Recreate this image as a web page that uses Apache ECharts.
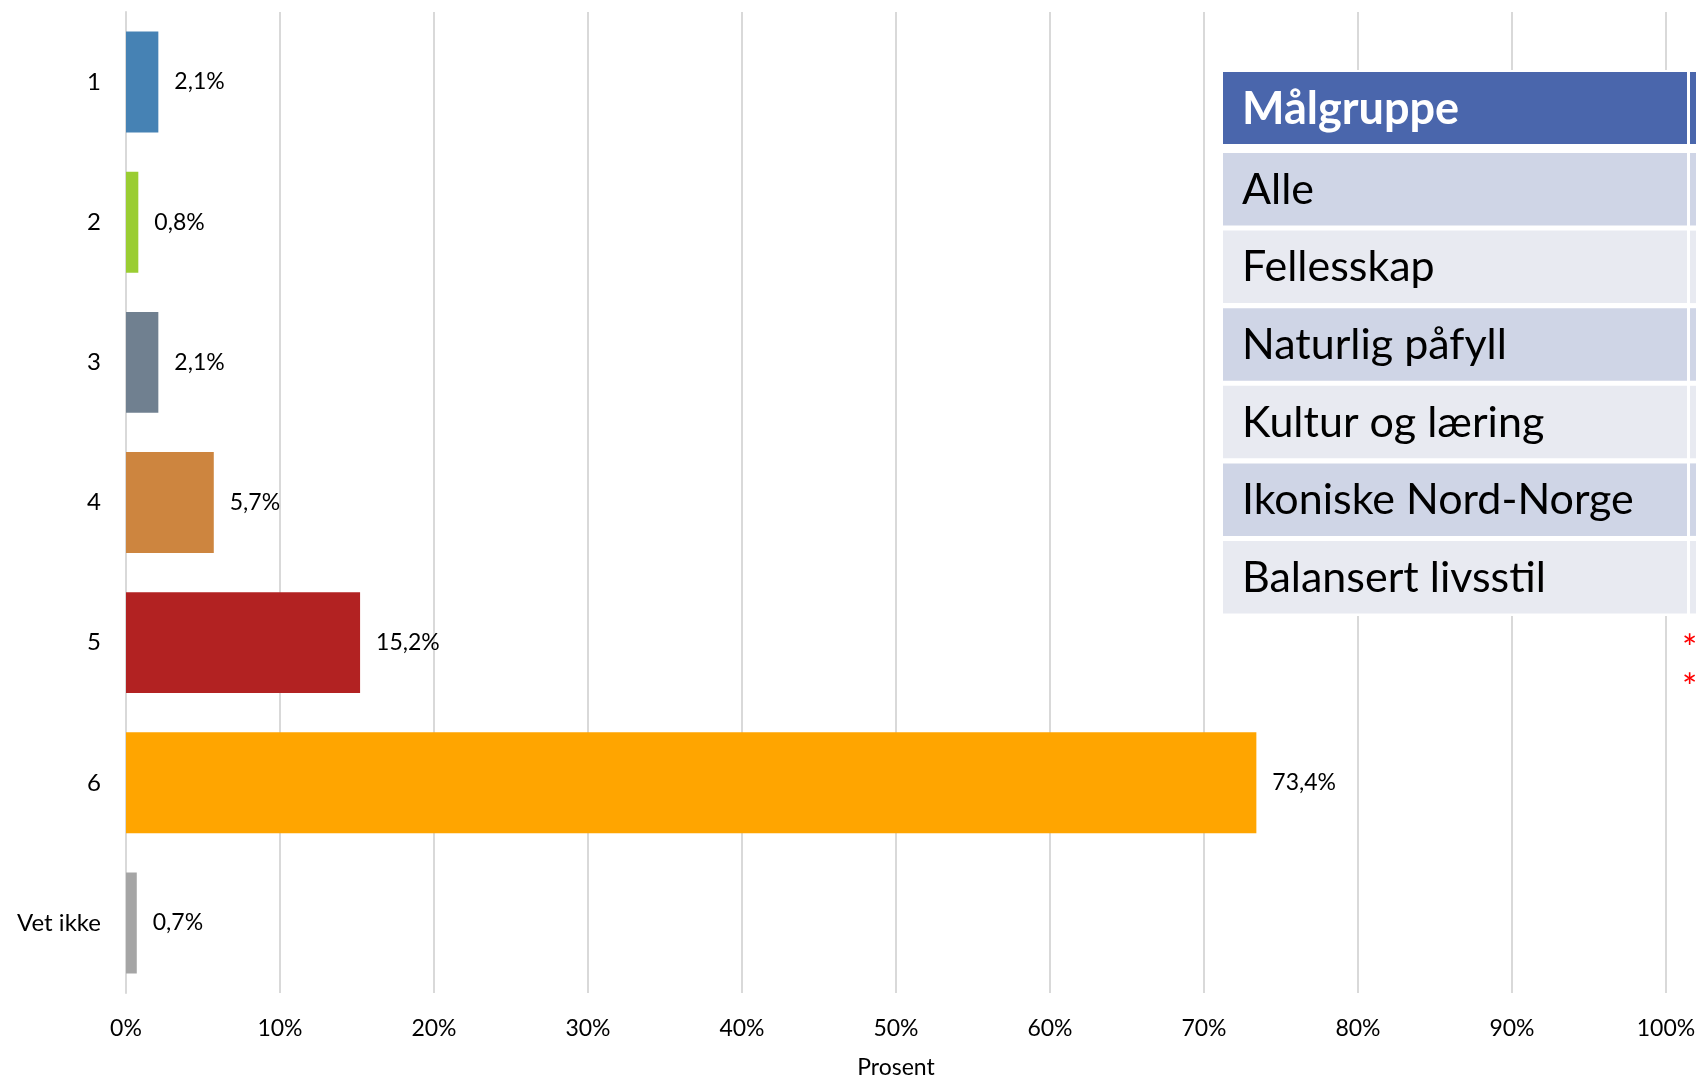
<!DOCTYPE html>
<html>
<head>
<meta charset="utf-8">
<script src="https://cdn.jsdelivr.net/npm/echarts@6/dist/echarts.min.js"></script>
<style>
  html, body { margin: 0; padding: 0; background: #fff; }
  #main { width: 1696px; height: 1079px; }
</style>
</head>
<body>
<div id="main"></div>
<script>
  // kategorier og verdier (prosent)
  var categories = ['1', '2', '3', '4', '5', '6', 'Vet ikke'];
  var values = [2.1, 0.8, 2.1, 5.7, 15.2, 73.4, 0.7];
  var barColors = ['#4682B4', '#9ACD32', '#708090', '#CD853F', '#B22222', '#FFA500', '#A5A5A5'];

  // tabell oppe til høyre
  var tableHeader = 'Målgruppe';
  var tableRows = ['Alle', 'Fellesskap', 'Naturlig påfyll', 'Kultur og læring', 'Ikoniske Nord-Norge', 'Balansert livsstil'];

  var font = 'Lato, "Open Sans", sans-serif';

  function fmt(v) {
    return String(v).replace('.', ',') + '%';
  }

  var myChart = echarts.init(document.getElementById('main'));

  // tabell-grafikk
  var tableEls = [];
  tableEls.push({ type: 'rect', shape: { x: 1222, y: 70, width: 480, height: 546 }, style: { fill: '#fff' }, z: 10 });
  tableEls.push({ type: 'rect', shape: { x: 1223, y: 72, width: 464, height: 72 }, style: { fill: '#4A66AC' }, z: 11 });
  tableEls.push({ type: 'rect', shape: { x: 1690, y: 72, width: 10, height: 72 }, style: { fill: '#4A66AC' }, z: 11 });
  tableEls.push({ type: 'text', x: 1242, y: 109, style: { text: tableHeader, fill: '#fff', font: 'bold 45px ' + font, verticalAlign: 'middle' }, z: 12 });
  tableRows.forEach(function (r, i) {
    var y = 153 + i * 77.6;
    var fill = i % 2 === 0 ? '#CFD5E6' : '#E8EAF1';
    tableEls.push({ type: 'rect', shape: { x: 1223, y: y, width: 464, height: 72.5 }, style: { fill: fill }, z: 11 });
    tableEls.push({ type: 'rect', shape: { x: 1690, y: y, width: 10, height: 72.5 }, style: { fill: fill }, z: 11 });
    tableEls.push({ type: 'text', x: 1242, y: y + 37, style: { text: r, fill: '#000', font: '43px ' + font, verticalAlign: 'middle' }, z: 12 });
  });
  tableEls.push({ type: 'text', x: 1682, y: 649, style: { text: '*', fill: '#FF0000', font: '36px ' + font, verticalAlign: 'middle' }, z: 12 });
  tableEls.push({ type: 'text', x: 1682, y: 688, style: { text: '*', fill: '#FF0000', font: '36px ' + font, verticalAlign: 'middle' }, z: 12 });

  myChart.setOption({
    animation: false,
    grid: { left: 126, right: 30, top: 12, bottom: 86, outerBoundsMode: 'none' },
    xAxis: {
      type: 'value',
      min: 0, max: 100, interval: 10,
      name: 'Prosent',
      nameLocation: 'middle',
      nameGap: 63,
      nameTextStyle: { fontFamily: font, fontSize: 23, color: '#000' },
      axisLine: { show: false },
      axisTick: { show: false },
      axisLabel: {
        margin: 24,
        fontFamily: font, fontSize: 23, color: '#000',
        formatter: function (v) { return v + '%'; }
      },
      splitLine: { show: true, lineStyle: { color: '#D9D9D9', width: 2 } }
    },
    yAxis: {
      type: 'category',
      data: categories,
      inverse: true,
      axisLine: { show: true, lineStyle: { color: '#D9D9D9', width: 2 } },
      axisTick: { show: false },
      axisLabel: { margin: 25, fontFamily: font, fontSize: 24, color: '#000' }
    },
    series: [{
      type: 'bar',
      barCategoryGap: '28%',
      data: values.map(function (v, i) {
        return { value: v, itemStyle: { color: barColors[i] } };
      }),
      label: {
        show: true,
        position: 'right',
        distance: 16,
        fontFamily: font, fontSize: 23, color: '#000',
        formatter: function (p) { return fmt(p.value); }
      }
    }],
    graphic: tableEls
  });
</script>
</body>
</html>
